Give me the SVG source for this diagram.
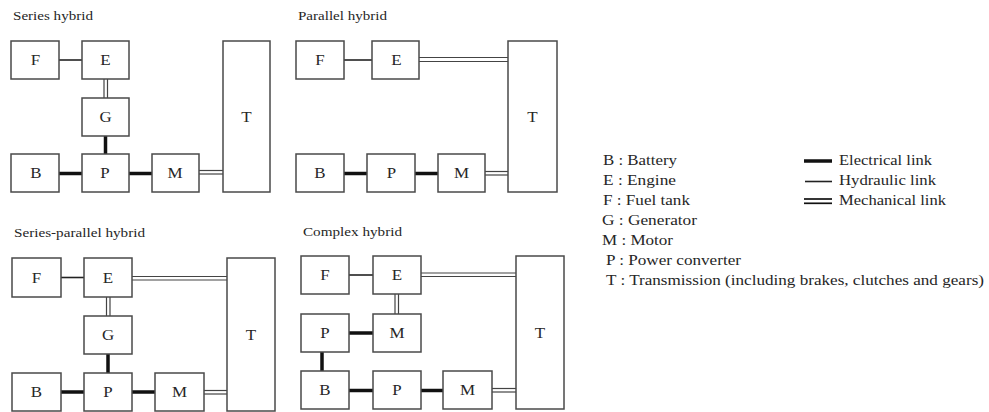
<svg xmlns="http://www.w3.org/2000/svg" width="989" height="412" viewBox="0 0 989 412">
<style>
  .box { fill: #fff; stroke: #4a4a4a; stroke-width: 1.5; }
  .lbl { font-family: "Liberation Serif", "Times New Roman", serif; font-size: 15px; fill: #262626; text-anchor: middle; }
  .ttl { font-family: "Liberation Serif", "Times New Roman", serif; font-size: 13.5px; fill: #262626; }
  .leg { font-family: "Liberation Serif", "Times New Roman", serif; font-size: 15px; fill: #262626; }
  .elec { stroke: #111; stroke-width: 3.5; fill: none; }
  .hyd { stroke: #222; stroke-width: 1.6; fill: none; }
  .mech { stroke: #444; stroke-width: 1.2; fill: none; }
  .legmech { stroke: #111; stroke-width: 1.7; fill: none; }
</style>
<rect width="989" height="412" fill="#fff"/>

<!-- Titles -->
<text class="ttl" x="13" y="20" textLength="80" lengthAdjust="spacingAndGlyphs">Series hybrid</text>
<text class="ttl" x="298" y="20" textLength="89" lengthAdjust="spacingAndGlyphs">Parallel hybrid</text>
<text class="ttl" x="14" y="237" textLength="131" lengthAdjust="spacingAndGlyphs">Series-parallel hybrid</text>
<text class="ttl" x="303" y="236" textLength="99" lengthAdjust="spacingAndGlyphs">Complex hybrid</text>

<!-- Connectors -->
<g id="connectors">
  <!-- Series hybrid -->
  <line class="hyd" x1="59" y1="60" x2="82" y2="60"/>
  <line class="mech" x1="104" y1="79" x2="104" y2="98"/>
  <line class="mech" x1="107.5" y1="79" x2="107.5" y2="98"/>
  <line class="elec" x1="105.5" y1="136" x2="105.5" y2="154"/>
  <line class="elec" x1="59" y1="173.5" x2="82" y2="173.5"/>
  <line class="elec" x1="129" y1="173.5" x2="152" y2="173.5"/>
  <line class="mech" x1="199" y1="170.5" x2="223" y2="170.5"/>
  <line class="mech" x1="199" y1="174" x2="223" y2="174"/>
  <!-- Parallel hybrid -->
  <line class="hyd" x1="344" y1="60" x2="372" y2="60"/>
  <line class="mech" x1="419" y1="57.5" x2="508" y2="57.5"/>
  <line class="mech" x1="419" y1="61.5" x2="508" y2="61.5"/>
  <line class="elec" x1="344" y1="173.5" x2="367" y2="173.5"/>
  <line class="elec" x1="415" y1="173.5" x2="438" y2="173.5"/>
  <line class="mech" x1="485" y1="171.5" x2="508" y2="171.5"/>
  <line class="mech" x1="485" y1="175" x2="508" y2="175"/>
  <!-- Series-parallel hybrid -->
  <line class="hyd" x1="61" y1="277.5" x2="84" y2="277.5"/>
  <line class="mech" x1="132" y1="276.5" x2="227" y2="276.5"/>
  <line class="mech" x1="132" y1="280" x2="227" y2="280"/>
  <line class="mech" x1="106.5" y1="297" x2="106.5" y2="316"/>
  <line class="mech" x1="110" y1="297" x2="110" y2="316"/>
  <line class="elec" x1="108" y1="354" x2="108" y2="373"/>
  <line class="elec" x1="61" y1="392" x2="84" y2="392"/>
  <line class="elec" x1="132" y1="392" x2="155" y2="392"/>
  <line class="mech" x1="204" y1="390.5" x2="227" y2="390.5"/>
  <line class="mech" x1="204" y1="394" x2="227" y2="394"/>
  <!-- Complex hybrid -->
  <line class="hyd" x1="349" y1="275" x2="373" y2="275"/>
  <line class="mech" x1="421" y1="273" x2="516" y2="273"/>
  <line class="mech" x1="421" y1="276.5" x2="516" y2="276.5"/>
  <line class="mech" x1="395" y1="294" x2="395" y2="314"/>
  <line class="mech" x1="398.5" y1="294" x2="398.5" y2="314"/>
  <line class="elec" x1="349" y1="333" x2="373" y2="333"/>
  <line class="elec" x1="322" y1="352" x2="322" y2="371"/>
  <line class="elec" x1="349" y1="390.5" x2="373" y2="390.5"/>
  <line class="elec" x1="421" y1="390.5" x2="443" y2="390.5"/>
  <line class="mech" x1="492" y1="388.5" x2="516" y2="388.5"/>
  <line class="mech" x1="492" y1="392" x2="516" y2="392"/>
</g>

<!-- Series hybrid nodes -->
<g id="s-F"><rect class="box" x="11" y="41" width="48" height="38"/><text class="lbl" x="35.5" y="65" textLength="9.4" lengthAdjust="spacingAndGlyphs">F</text></g>
<g id="s-E"><rect class="box" x="82" y="41" width="47" height="38"/><text class="lbl" x="105.5" y="65" textLength="10.4" lengthAdjust="spacingAndGlyphs">E</text></g>
<g id="s-G"><rect class="box" x="82" y="98" width="47" height="38"/><text class="lbl" x="105.5" y="122" textLength="12.2" lengthAdjust="spacingAndGlyphs">G</text></g>
<g id="s-B"><rect class="box" x="11" y="154" width="48" height="38"/><text class="lbl" x="36" y="178" textLength="11.3" lengthAdjust="spacingAndGlyphs">B</text></g>
<g id="s-P"><rect class="box" x="82" y="154" width="47" height="38"/><text class="lbl" x="105" y="178" textLength="9.4" lengthAdjust="spacingAndGlyphs">P</text></g>
<g id="s-M"><rect class="box" x="152" y="154" width="47" height="38"/><text class="lbl" x="175" y="178" textLength="15.1" lengthAdjust="spacingAndGlyphs">M</text></g>
<g id="s-T"><rect class="box" x="223" y="41" width="47" height="151"/><text class="lbl" x="246.5" y="121.5" textLength="10.4" lengthAdjust="spacingAndGlyphs">T</text></g>

<!-- Parallel hybrid nodes -->
<g id="p-F"><rect class="box" x="296" y="41" width="48" height="38"/><text class="lbl" x="320" y="65" textLength="9.4" lengthAdjust="spacingAndGlyphs">F</text></g>
<g id="p-E"><rect class="box" x="372" y="41" width="47" height="38"/><text class="lbl" x="396.5" y="65" textLength="10.4" lengthAdjust="spacingAndGlyphs">E</text></g>
<g id="p-T"><rect class="box" x="508" y="41" width="49" height="151"/><text class="lbl" x="532.5" y="121.5" textLength="10.4" lengthAdjust="spacingAndGlyphs">T</text></g>
<g id="p-B"><rect class="box" x="296" y="154" width="48" height="38"/><text class="lbl" x="320" y="178" textLength="11.3" lengthAdjust="spacingAndGlyphs">B</text></g>
<g id="p-P"><rect class="box" x="367" y="154" width="48" height="38"/><text class="lbl" x="391.5" y="178" textLength="9.4" lengthAdjust="spacingAndGlyphs">P</text></g>
<g id="p-M"><rect class="box" x="438" y="154" width="47" height="38"/><text class="lbl" x="461.5" y="178" textLength="15.1" lengthAdjust="spacingAndGlyphs">M</text></g>

<!-- Series-parallel hybrid nodes -->
<g id="sp-F"><rect class="box" x="12" y="258" width="49" height="39"/><text class="lbl" x="36.5" y="282.5" textLength="9.4" lengthAdjust="spacingAndGlyphs">F</text></g>
<g id="sp-E"><rect class="box" x="84" y="258" width="48" height="39"/><text class="lbl" x="108" y="282.5" textLength="10.4" lengthAdjust="spacingAndGlyphs">E</text></g>
<g id="sp-G"><rect class="box" x="84" y="316" width="48" height="38"/><text class="lbl" x="108" y="340" textLength="12.2" lengthAdjust="spacingAndGlyphs">G</text></g>
<g id="sp-B"><rect class="box" x="12" y="373" width="49" height="38"/><text class="lbl" x="36.5" y="397" textLength="11.3" lengthAdjust="spacingAndGlyphs">B</text></g>
<g id="sp-P"><rect class="box" x="84" y="373" width="48" height="38"/><text class="lbl" x="108" y="397" textLength="9.4" lengthAdjust="spacingAndGlyphs">P</text></g>
<g id="sp-M"><rect class="box" x="155" y="373" width="49" height="38"/><text class="lbl" x="179.5" y="397" textLength="15.1" lengthAdjust="spacingAndGlyphs">M</text></g>
<g id="sp-T"><rect class="box" x="227" y="258" width="48" height="153"/><text class="lbl" x="251" y="339.5" textLength="10.4" lengthAdjust="spacingAndGlyphs">T</text></g>

<!-- Complex hybrid nodes -->
<g id="c-F"><rect class="box" x="301" y="256" width="48" height="38"/><text class="lbl" x="325" y="280" textLength="9.4" lengthAdjust="spacingAndGlyphs">F</text></g>
<g id="c-E"><rect class="box" x="373" y="256" width="48" height="38"/><text class="lbl" x="397" y="280" textLength="10.4" lengthAdjust="spacingAndGlyphs">E</text></g>
<g id="c-P1"><rect class="box" x="301" y="314" width="48" height="38"/><text class="lbl" x="325" y="338" textLength="9.4" lengthAdjust="spacingAndGlyphs">P</text></g>
<g id="c-M1"><rect class="box" x="373" y="314" width="48" height="38"/><text class="lbl" x="397" y="338" textLength="15.1" lengthAdjust="spacingAndGlyphs">M</text></g>
<g id="c-B"><rect class="box" x="301" y="371" width="48" height="38"/><text class="lbl" x="325" y="395" textLength="11.3" lengthAdjust="spacingAndGlyphs">B</text></g>
<g id="c-P2"><rect class="box" x="373" y="371" width="48" height="38"/><text class="lbl" x="397" y="395" textLength="9.4" lengthAdjust="spacingAndGlyphs">P</text></g>
<g id="c-M2"><rect class="box" x="443" y="371" width="49" height="38"/><text class="lbl" x="467.5" y="395" textLength="15.1" lengthAdjust="spacingAndGlyphs">M</text></g>
<g id="c-T"><rect class="box" x="516" y="256" width="48" height="153"/><text class="lbl" x="540" y="337.5" textLength="10.4" lengthAdjust="spacingAndGlyphs">T</text></g>

<!-- Legend -->
<g id="legend">
  <text class="leg" x="603" y="165" textLength="74" lengthAdjust="spacingAndGlyphs">B : Battery</text>
  <text class="leg" x="603" y="185" textLength="73" lengthAdjust="spacingAndGlyphs">E : Engine</text>
  <text class="leg" x="603" y="205" textLength="87" lengthAdjust="spacingAndGlyphs">F : Fuel tank</text>
  <text class="leg" x="602" y="225" textLength="95" lengthAdjust="spacingAndGlyphs">G : Generator</text>
  <text class="leg" x="602" y="245" textLength="71" lengthAdjust="spacingAndGlyphs">M : Motor</text>
  <text class="leg" x="606" y="265" textLength="135" lengthAdjust="spacingAndGlyphs">P : Power converter</text>
  <text class="leg" x="606" y="285" textLength="378" lengthAdjust="spacingAndGlyphs">T : Transmission (including brakes, clutches and gears)</text>
  <line class="elec" x1="804" y1="161" x2="832" y2="161"/>
  <line class="hyd" x1="805" y1="181.5" x2="832" y2="181.5"/>
  <line class="legmech" x1="804" y1="199" x2="832" y2="199"/>
  <line class="legmech" x1="804" y1="203.3" x2="832" y2="203.3"/>
  <text class="leg" x="839" y="165" textLength="93" lengthAdjust="spacingAndGlyphs">Electrical link</text>
  <text class="leg" x="839" y="185" textLength="97" lengthAdjust="spacingAndGlyphs">Hydraulic link</text>
  <text class="leg" x="839" y="205" textLength="107" lengthAdjust="spacingAndGlyphs">Mechanical link</text>
</g>
</svg>
